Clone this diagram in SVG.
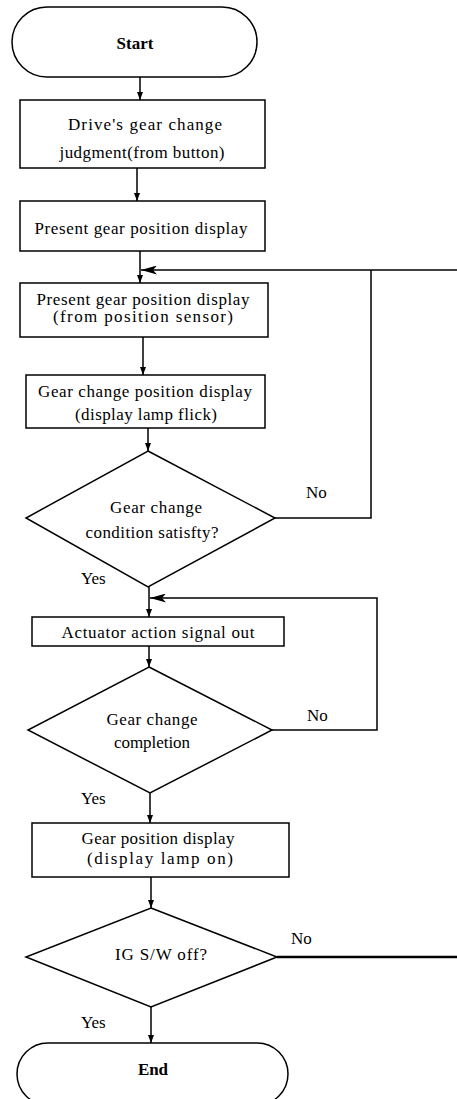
<svg xmlns="http://www.w3.org/2000/svg" width="457" height="1099" viewBox="0 0 457 1099">
<defs>
<style>
.shape{fill:#fff;stroke:#000;stroke-width:1.5}
.line{fill:none;stroke:#000;stroke-width:1.5}
.thick{fill:none;stroke:#000;stroke-width:2.5}
text{font-family:"Liberation Serif","Times New Roman",serif;font-size:17px;fill:#000;text-anchor:middle}
.b{font-weight:bold}
.lbl{font-size:17px;text-anchor:start}
</style>
<marker id="ad" markerUnits="userSpaceOnUse" markerWidth="8" markerHeight="6" refX="8" refY="3" orient="auto">
<path d="M0,0 L8,3 L0,6 z" fill="#000"/>
</marker>
<marker id="al" markerUnits="userSpaceOnUse" markerWidth="16" markerHeight="9" refX="16" refY="4.5" orient="auto">
<path d="M0,0 L16,4.5 L0,9 L4,4.5 z" fill="#000"/>
</marker>
</defs>
<rect width="457" height="1099" fill="#fff"/>

<g id="connectors">
<line class="line" x1="140" y1="77" x2="140" y2="100" marker-end="url(#ad)"/>
<line class="line" x1="137" y1="168" x2="137" y2="201" marker-end="url(#ad)"/>
<line class="line" x1="140" y1="251" x2="140" y2="283" marker-end="url(#ad)"/>
<line class="line" x1="457" y1="270" x2="141" y2="270" marker-end="url(#al)"/>
<line class="line" x1="143" y1="337" x2="143" y2="375" marker-end="url(#ad)"/>
<line class="line" x1="148" y1="428" x2="148" y2="451" marker-end="url(#ad)"/>
<polyline class="line" points="275,518 371,518 371,270"/>
<line class="line" x1="149" y1="587" x2="149" y2="617" marker-end="url(#ad)"/>
<polyline class="line" points="272,730 377,730 377,598 150,598" marker-end="url(#al)"/>
<line class="line" x1="149" y1="646" x2="149" y2="667" marker-end="url(#ad)"/>
<line class="line" x1="150" y1="793" x2="150" y2="823" marker-end="url(#ad)"/>
<line class="line" x1="151" y1="877" x2="151" y2="908" marker-end="url(#ad)"/>
<line class="thick" x1="277" y1="957" x2="457" y2="957"/>
<line class="line" x1="151" y1="1007" x2="151" y2="1043" marker-end="url(#ad)"/>
<text class="lbl" x="306" y="498">No</text>
<text class="lbl" x="81" y="584">Yes</text>
<text class="lbl" x="307" y="721">No</text>
<text class="lbl" x="81" y="804">Yes</text>
<text class="lbl" x="291" y="944">No</text>
<text class="lbl" x="81" y="1028">Yes</text>
</g>

<g id="start">
<rect class="shape" x="12" y="7" width="245" height="70" rx="35" ry="35"/>
<text class="b" x="135" y="49" textLength="37">Start</text>
</g>

<g id="drive-judgment">
<rect class="shape" x="20" y="100" width="245" height="68"/>
<text x="145" y="130" textLength="154">Drive's gear change</text>
<text x="142" y="158" textLength="165">judgment(from button)</text>
</g>

<g id="present-display">
<rect class="shape" x="20" y="201" width="245" height="50"/>
<text x="141" y="234" textLength="213">Present gear position display</text>
</g>

<g id="present-display-sensor">
<rect class="shape" x="20" y="283" width="248" height="54"/>
<text x="143" y="305" textLength="213">Present gear position display</text>
<text x="143" y="322" textLength="180">(from position sensor)</text>
</g>

<g id="change-display-flick">
<rect class="shape" x="26" y="375" width="239" height="53"/>
<text x="145" y="397" textLength="214">Gear change position display</text>
<text x="146" y="420" textLength="142">(display lamp flick)</text>
</g>

<g id="condition-decision">
<polygon class="shape" points="148,451 275,518 148,587 26,518"/>
<text x="156" y="513" textLength="92">Gear change</text>
<text x="152" y="538" textLength="133">condition satisfty?</text>
</g>

<g id="actuator-signal">
<rect class="shape" x="32" y="617" width="252" height="29"/>
<text x="158" y="638" textLength="193">Actuator action signal out</text>
</g>

<g id="completion-decision">
<polygon class="shape" points="149,667 272,730 150,793 28,730"/>
<text x="152" y="725" textLength="91">Gear change</text>
<text x="152" y="748" textLength="76">completion</text>
</g>

<g id="gear-display-on">
<rect class="shape" x="32" y="823" width="257" height="54"/>
<text x="158" y="844" textLength="153">Gear position display</text>
<text x="160" y="864" textLength="146">(display lamp on)</text>
</g>

<g id="ig-decision">
<polygon class="shape" points="151,908 277,957 151,1007 26,957"/>
<text x="161" y="960" textLength="92">IG S/W off?</text>
</g>

<g id="end">
<rect class="shape" x="17" y="1043" width="271" height="62" rx="31" ry="31"/>
<text class="b" x="153" y="1075" textLength="30">End</text>
</g>
</svg>
